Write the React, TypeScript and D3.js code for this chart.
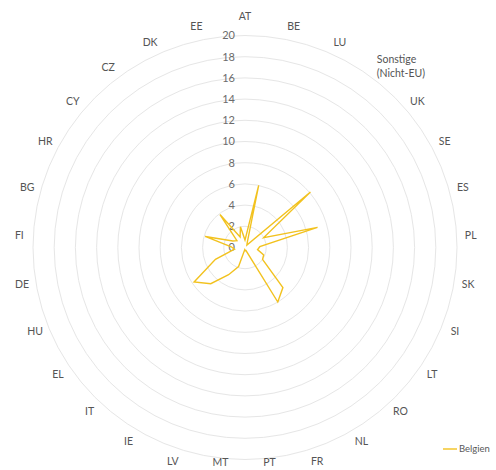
import { useEffect, useRef } from 'react';
import * as d3 from 'd3';

// Kategorien im Uhrzeigersinn, beginnend oben
const categories = [
  'AT', 'BE', 'LU', 'Sonstige (Nicht-EU)', 'UK', 'SE', 'ES', 'PL', 'SK', 'SI',
  'LT', 'RO', 'NL', 'FR', 'PT', 'MT', 'LV', 'IE', 'IT', 'EL',
  'HU', 'DE', 'FI', 'BG', 'HR', 'CY', 'CZ', 'DK', 'EE',
];

const belgien = [
  0.7, 6.0, 0.5, 0.3, 8.1, 2.0, 7.1, 1.4, 1.2, 1.9,
  2.0, 5.2, 6.0, 0.3, 0.3, 0.2, 1.9, 3.0, 4.7, 5.8,
  3.0, 1.0, 1.3, 3.9, 1.3, 1.0, 3.9, 1.1, 2.0,
];

const ticks = [0, 2, 4, 6, 8, 10, 12, 14, 16, 18, 20];
const seriesName = 'Belgien';

export default function App() {
  const svgRef = useRef<SVGSVGElement>(null);

  useEffect(() => {
    if (!svgRef.current) return;
    const width = 496;
    const height = 470;
    const cx = 245;
    const cy = 247.5;
    const outer = 212;

    const svg = d3.select(svgRef.current);
    svg.selectAll('*').remove();
    svg.attr('width', width).attr('height', height);

    const n = categories.length;
    const angle = d3.scaleLinear().domain([0, n]).range([0, 2 * Math.PI]);
    const r = d3.scaleLinear().domain([0, 20]).range([0, outer]);

    const g = svg.append('g').attr('transform', `translate(${cx},${cy})`);

    // Gitterringe
    g.selectAll('.ring')
      .data(ticks.filter(t => t > 0))
      .enter()
      .append('circle')
      .attr('class', 'ring')
      .attr('r', t => r(t))
      .attr('fill', 'none')
      .attr('stroke', '#e6e6e6')
      .attr('stroke-width', 1);

    // Achsenbeschriftung
    g.selectAll('.tick')
      .data(ticks)
      .enter()
      .append('text')
      .attr('x', -10)
      .attr('y', t => -r(t))
      .attr('dy', '0.35em')
      .attr('text-anchor', 'end')
      .attr('fill', '#6b6b6b')
      .style('font-family', 'Lato, sans-serif')
      .style('font-size', '11px')
      .text(t => t);

    // Datenreihe
    const line = d3.lineRadial<number>()
      .angle((_, i) => angle(i))
      .radius(d => r(d))
      .curve(d3.curveLinearClosed);

    g.append('path')
      .attr('d', line(belgien))
      .attr('fill', 'none')
      .attr('stroke', '#f2c21f')
      .attr('stroke-width', 1.4)
      .attr('stroke-linejoin', 'miter');

    // Kategorienbeschriftung
    const labelR = 226;
    const labels = g.selectAll('.cat')
      .data(categories)
      .enter()
      .append('text')
      .attr('class', 'cat')
      .attr('fill', '#555555')
      .style('font-family', 'Lato, sans-serif')
      .style('font-size', '10.5px')
      .attr('text-anchor', d => (d.includes(' ') ? 'start' : 'middle'))
      .attr('transform', (d, i) => {
        const a = angle(i);
        let x = labelR * Math.sin(a);
        let y = -labelR * Math.cos(a);
        if (i === 0) y -= 5;
        if (d.includes(' ')) { x -= 5; y -= 8; }
        y = Math.min(y, height - cy - 8);
        return `translate(${x},${y})`;
      });

    labels.each(function (d) {
      const t = d3.select(this);
      if (d.includes(' ')) {
        const parts = d.split(' ');
        parts.forEach((p, k) => {
          t.append('tspan').attr('x', 0).attr('dy', k === 0 ? '0.35em' : '1.3em').text(p);
        });
      } else {
        t.attr('dy', '0.35em').text(d);
      }
    });

    // Legende
    const legend = svg.append('g').attr('transform', 'translate(443,449)');
    legend.append('line')
      .attr('x1', 0).attr('x2', 14)
      .attr('y1', 0).attr('y2', 0)
      .attr('stroke', '#f2c21f')
      .attr('stroke-width', 1.4);
    legend.append('text')
      .attr('x', 16)
      .attr('dy', '0.35em')
      .attr('fill', '#595959')
      .style('font-family', 'Lato, sans-serif')
      .style('font-size', '9.5px')
      .text(seriesName);
  }, []);

  return (
    <div style={{ position: 'absolute', left: 0, top: 0, background: '#fff' }}>
      <svg ref={svgRef}></svg>
    </div>
  );
}
